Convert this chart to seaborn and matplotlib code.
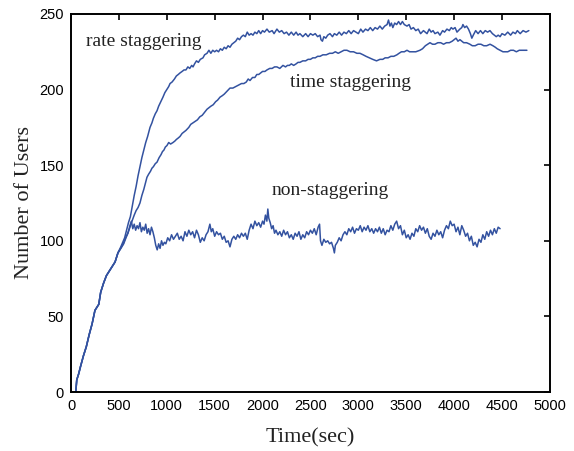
import matplotlib
matplotlib.use("Agg")
import matplotlib.pyplot as plt
import seaborn as sns
import pandas as pd

# ---- data ----
start_x = [50, 60, 80, 100, 130, 160, 190, 220, 250, 270, 290, 310, 340, 370, 400, 430, 460, 490]
start_y = [0, 8, 12, 17, 24, 30, 38, 45, 54, 56, 58, 66, 72, 77, 80, 83, 86, 92]

non_stag = [(520, 95), (545, 98), (570, 102), (595, 105), (615, 110), (630, 113), (645, 108),
            (660, 111), (675, 107), (690, 110), (705, 108), (720, 112), (735, 106), (750, 109),
            (765, 107), (780, 111), (795, 105), (810, 108), (825, 104), (840, 109), (855, 106),
            (870, 102), (885, 97), (900, 94), (915, 98), (930, 95), (945, 100), (960, 97),
            (975, 99), (990, 98), (1010, 102), (1030, 100), (1050, 104), (1070, 101),
            (1090, 103), (1110, 105), (1130, 101), (1150, 103), (1170, 100), (1190, 106),
            (1210, 103), (1230, 107), (1250, 104), (1270, 106), (1290, 102), (1310, 107),
            (1330, 104), (1350, 99), (1370, 102), (1390, 100), (1410, 104), (1430, 106),
            (1450, 111), (1465, 106), (1480, 108), (1500, 103), (1520, 106), (1540, 104),
            (1560, 105), (1580, 101), (1600, 103), (1620, 99), (1640, 100), (1660, 96),
            (1680, 101), (1700, 103), (1720, 101), (1740, 104), (1760, 102), (1780, 105),
            (1800, 103), (1820, 105), (1840, 101), (1860, 107), (1880, 111), (1900, 108),
            (1920, 113), (1940, 110), (1960, 112), (1980, 109), (2000, 113), (2015, 111),
            (2030, 117), (2045, 113), (2055, 121), (2065, 115), (2080, 112), (2095, 108),
            (2110, 110), (2125, 105), (2140, 107), (2160, 104), (2180, 106), (2200, 103),
            (2220, 107), (2240, 104), (2260, 106), (2280, 102), (2300, 104), (2320, 101),
            (2340, 105), (2360, 103), (2380, 106), (2400, 101), (2420, 104), (2440, 102),
            (2460, 106), (2480, 104), (2500, 107), (2520, 105), (2540, 108), (2560, 104),
            (2580, 109), (2595, 111), (2605, 100), (2620, 97), (2640, 101), (2660, 99),
            (2680, 100), (2700, 98), (2720, 99), (2740, 95), (2750, 92), (2760, 97),
            (2780, 99), (2800, 102), (2820, 100), (2840, 104), (2860, 106), (2880, 104),
            (2900, 108), (2920, 106), (2940, 109), (2960, 105), (2980, 108), (3000, 107),
            (3020, 110), (3040, 106), (3060, 109), (3080, 107), (3100, 110), (3120, 106),
            (3140, 108), (3160, 105), (3180, 108), (3200, 106), (3220, 109), (3240, 105),
            (3260, 108), (3280, 104), (3300, 107), (3320, 106), (3340, 110), (3360, 107),
            (3380, 111), (3400, 113), (3420, 108), (3440, 110), (3460, 104), (3480, 107),
            (3500, 102), (3520, 104), (3540, 101), (3560, 105), (3580, 103), (3600, 108),
            (3620, 106), (3640, 110), (3660, 107), (3680, 109), (3700, 105), (3720, 108),
            (3740, 103), (3760, 101), (3780, 105), (3800, 103), (3820, 107), (3840, 104),
            (3860, 106), (3880, 102), (3900, 107), (3920, 110), (3940, 108), (3960, 113),
            (3980, 110), (4000, 111), (4020, 106), (4040, 109), (4060, 104), (4080, 110),
            (4100, 107), (4120, 103), (4140, 105), (4160, 100), (4180, 103), (4200, 97),
            (4220, 99), (4240, 96), (4260, 101), (4280, 99), (4300, 104), (4320, 101),
            (4340, 106), (4360, 103), (4380, 107), (4400, 104), (4420, 108), (4440, 105),
            (4460, 109), (4480, 108)]

rate_stag = [(520, 96), (560, 102), (600, 112), (620, 116), (640, 123), (660, 130), (680, 136),
             (700, 143), (720, 149), (740, 155), (760, 160), (780, 165), (800, 169), (825, 175),
             (845, 178), (860, 181), (880, 184), (898, 186), (915, 189), (930, 191), (945, 193),
             (960, 195), (980, 198), (1000, 200), (1020, 202), (1034, 204), (1055, 205),
             (1080, 207), (1100, 209), (1120, 210), (1138, 211), (1160, 212), (1180, 213),
             (1200, 213), (1220, 215), (1240, 214), (1260, 216), (1274, 215), (1290, 217),
             (1310, 219), (1330, 218), (1350, 220), (1378, 221), (1395, 223), (1420, 224),
             (1440, 226), (1460, 224), (1480, 226), (1500, 225), (1520, 226), (1540, 225),
             (1560, 227), (1580, 226), (1600, 228), (1620, 227), (1640, 229), (1660, 228),
             (1680, 230), (1700, 231), (1720, 232), (1740, 234), (1760, 233), (1780, 235),
             (1800, 236), (1820, 235), (1840, 238), (1860, 236), (1880, 237), (1900, 236),
             (1920, 238), (1940, 237), (1960, 239), (1980, 237), (2000, 239), (2020, 238),
             (2046, 240), (2070, 238), (2100, 239), (2120, 237), (2150, 240), (2175, 238),
             (2200, 239), (2225, 237), (2250, 238), (2275, 236), (2300, 238), (2325, 236),
             (2350, 238), (2370, 236), (2390, 237), (2420, 235), (2450, 237), (2475, 235),
             (2500, 237), (2525, 236), (2550, 237), (2575, 235), (2600, 236), (2610, 233),
             (2625, 232), (2640, 235), (2660, 234), (2680, 236), (2704, 237), (2730, 235),
             (2750, 237), (2775, 236), (2800, 238), (2825, 236), (2850, 238), (2875, 237),
             (2900, 239), (2925, 237), (2950, 239), (2975, 238), (3000, 237), (3025, 240),
             (3048, 238), (3075, 240), (3100, 239), (3125, 241), (3150, 239), (3175, 241),
             (3200, 240), (3225, 242), (3250, 240), (3275, 242), (3300, 243), (3315, 246),
             (3330, 242), (3345, 244), (3360, 241), (3380, 244), (3400, 243), (3420, 245),
             (3440, 243), (3460, 245), (3480, 243), (3508, 242), (3530, 243), (3550, 240),
             (3575, 241), (3600, 239), (3625, 240), (3650, 237), (3680, 239), (3717, 237),
             (3740, 240), (3760, 238), (3780, 239), (3800, 237), (3830, 238), (3852, 236),
             (3880, 239), (3900, 238), (3925, 240), (3950, 239), (3970, 241), (3988, 240),
             (4010, 241), (4030, 238), (4060, 240), (4080, 241), (4092, 243), (4110, 241),
             (4130, 242), (4150, 240), (4170, 237), (4185, 234), (4200, 236), (4225, 239),
             (4250, 237), (4275, 239), (4300, 237), (4325, 239), (4350, 238), (4374, 239),
             (4400, 237), (4420, 236), (4440, 235), (4460, 236), (4480, 235), (4500, 237),
             (4530, 236), (4560, 238), (4590, 236), (4614, 238), (4640, 237), (4660, 239),
             (4690, 237), (4720, 239), (4750, 238), (4780, 239)]

time_stag = [(520, 95), (550, 98), (580, 103), (610, 108), (637, 113), (660, 117), (680, 120),
             (700, 122), (720, 125), (740, 130), (760, 134), (780, 139), (793, 142), (810, 144),
             (830, 146), (845, 148), (860, 149), (880, 151), (898, 152), (920, 155), (940, 157),
             (955, 159), (970, 160), (985, 162), (1002, 163), (1020, 165), (1040, 164),
             (1065, 165), (1085, 166), (1100, 167), (1120, 168), (1138, 169), (1160, 171),
             (1180, 172), (1200, 173), (1230, 175), (1250, 177), (1274, 178), (1300, 179),
             (1320, 180), (1345, 182), (1370, 183), (1395, 185), (1420, 187), (1440, 188),
             (1460, 189), (1485, 190), (1510, 192), (1530, 193), (1556, 195), (1580, 196),
             (1600, 197), (1630, 199), (1660, 201), (1690, 201), (1720, 202), (1750, 203),
             (1780, 204), (1805, 204), (1830, 205), (1850, 207), (1869, 206), (1895, 208),
             (1920, 208), (1940, 210), (1960, 210), (1980, 211), (2000, 212), (2025, 212),
             (2046, 213), (2075, 214), (2100, 214), (2125, 215), (2150, 215), (2180, 214),
             (2213, 216), (2240, 215), (2260, 216), (2280, 216), (2300, 217), (2325, 216),
             (2350, 217), (2370, 218), (2390, 218), (2420, 219), (2450, 219), (2475, 220),
             (2500, 220), (2525, 221), (2550, 221), (2575, 222), (2600, 222), (2630, 223),
             (2665, 223), (2700, 224), (2730, 224), (2760, 225), (2790, 224), (2820, 225),
             (2850, 226), (2881, 226), (2915, 225), (2950, 225), (2985, 224), (3017, 224),
             (3050, 223), (3080, 222), (3115, 221), (3150, 220), (3190, 219), (3226, 220),
             (3255, 220), (3280, 221), (3310, 221), (3340, 222), (3370, 222), (3403, 223),
             (3425, 224), (3450, 225), (3480, 225), (3508, 226), (3535, 225), (3560, 225),
             (3600, 225), (3643, 226), (3670, 227), (3700, 229), (3725, 230), (3748, 231),
             (3775, 230), (3800, 230), (3830, 231), (3860, 231), (3890, 230), (3920, 231),
             (3950, 231), (3980, 232), (4000, 233), (4020, 234), (4040, 232), (4061, 233),
             (4080, 232), (4100, 231), (4130, 231), (4165, 230), (4190, 229), (4220, 229),
             (4250, 230), (4280, 230), (4310, 229), (4340, 229), (4375, 230), (4405, 229),
             (4430, 228), (4450, 227), (4480, 226), (4510, 225), (4535, 225), (4560, 225),
             (4590, 226), (4620, 226), (4650, 225), (4680, 226), (4720, 226), (4760, 226)]

x_ticks = [0, 500, 1000, 1500, 2000, 2500, 3000, 3500, 4000, 4500, 5000]
y_ticks = [0, 50, 100, 150, 200, 250]

labels = [("rate staggering", 157, 229), ("time staggering", 2286, 201.5), ("non-staggering", 2098, 130.3)]

# ---- build table ----
rows = []
for name, pts in [("rate", rate_stag), ("time", time_stag), ("non", non_stag)]:
    for x, y in zip(start_x, start_y):
        rows.append((name, x, y))
    for x, y in pts:
        rows.append((name, x, y))
df = pd.DataFrame(rows, columns=["series", "t", "users"])

sns.set_theme(style="white")
plt.rcParams["font.family"] = ["Liberation Sans", "DejaVu Sans"]

fig = plt.figure(figsize=(5.74, 4.51), dpi=100)
ax = fig.add_axes([0.1237, 0.1308, 0.958 - 0.1237, 0.969 - 0.1308])

color = "#3352A0"
sns.lineplot(data=df, x="t", y="users", hue="series", units="series", estimator=None,
             sort=False, palette={"rate": color, "time": color, "non": color},
             linewidth=1.1, legend=False, ax=ax)

ax.set_xlim(0, 5000)
ax.set_ylim(0, 250)
ax.set_xticks(x_ticks)
ax.set_yticks(y_ticks)
ax.tick_params(direction="in", length=4, width=1.2, top=True, right=True,
               labelsize=10.5, colors="black", pad=5)
for s in ax.spines.values():
    s.set_visible(True)
    s.set_color("black")
    s.set_linewidth(1.4)

serif = ["Liberation Serif", "DejaVu Serif"]
ax.set_xlabel("Time(sec)", fontsize=16, family=serif, color="#222222", labelpad=11)
ax.set_ylabel("Number of Users", fontsize=16, family=serif, color="#222222", labelpad=4)

for txt, x, y in labels:
    ax.text(x, y, txt, fontsize=14, family=serif, color="#222222", va="baseline", ha="left")

fig.savefig("out.png", dpi=100)
